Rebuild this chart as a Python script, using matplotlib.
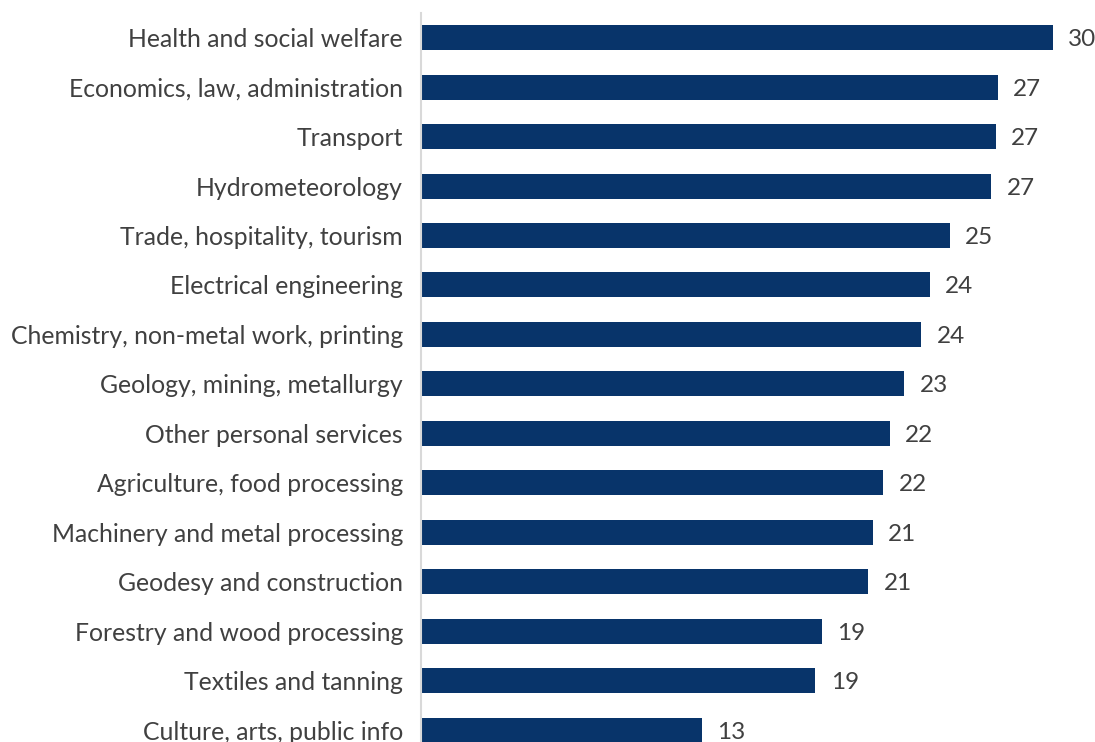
import matplotlib.pyplot as plt
import numpy as np

# share of respondents by field of education
categories = [
    'Health and social welfare',
    'Economics, law, administration',
    'Transport',
    'Hydrometeorology',
    'Trade, hospitality, tourism',
    'Electrical engineering',
    'Chemistry, non-metal work, printing',
    'Geology, mining, metallurgy',
    'Other personal services',
    'Agriculture, food processing',
    'Machinery and metal processing',
    'Geodesy and construction',
    'Forestry and wood processing',
    'Textiles and tanning',
    'Culture, arts, public info',
]
values = [29.8, 27.2, 27.1, 26.9, 24.95, 24.0, 23.6, 22.8, 22.1, 21.8,
          21.3, 21.1, 18.9, 18.6, 13.25]

plt.rcParams['font.family'] = ['Lato', 'DejaVu Sans']

fig = plt.figure(figsize=(10.95, 7.42), dpi=100)
ax = fig.add_axes([421 / 1095, 0, 1 - 421 / 1095, 1 - 13 / 742])

y = np.arange(len(categories))
ax.barh(y, values, height=0.505, color='#08346a')

for yi, v in zip(y, values):
    ax.text(v + 0.72, yi, f'{v:.0f}', va='center_baseline', ha='left',
            fontsize=17.5, color='#404040')

ax.set_yticks(y)
ax.set_yticklabels(categories, fontsize=17.8, color='#404040',
                   va='center_baseline')
ax.tick_params(axis='y', length=0, pad=13)
ax.set_xticks([])
ax.set_xlim(0, 674 / 21.2)
ax.set_ylim(14 + 12 / 49.5, -0.5)

for side in ['top', 'right', 'bottom']:
    ax.spines[side].set_visible(False)
ax.spines['left'].set_color('#d9d9d9')
ax.spines['left'].set_linewidth(1.5)

fig.savefig('out.png', dpi=100)
